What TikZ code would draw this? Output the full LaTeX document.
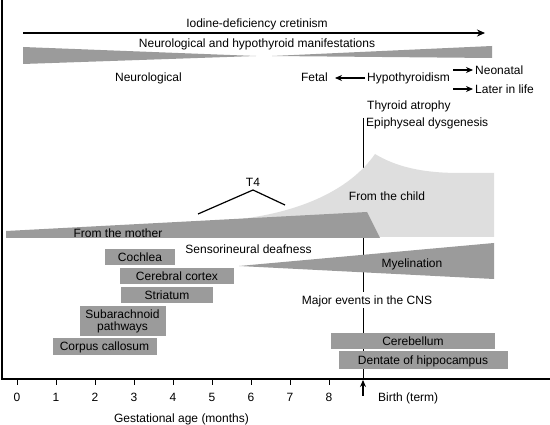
\documentclass[tikz,border=0pt]{standalone}
\usepackage{fontspec}
\setmainfont{Liberation Sans}
\usetikzlibrary{arrows.meta}
\definecolor{dk}{HTML}{9B9B9B}
\definecolor{lt}{HTML}{DEDEDE}
\begin{document}
\begin{tikzpicture}[x=1pt,y=-1pt,
  txt/.style={font=\fontsize{12}{14}\selectfont, inner sep=0pt, text height=8.6pt, text depth=0pt},
  boxnode/.style={fill=dk, inner sep=0pt, font=\fontsize{12}{14}\selectfont},
  ln/.style={line width=1.2pt},
  arr/.style={ln, -{Stealth[length=8pt,width=7pt]}},
  sarr/.style={line width=1.1pt, -{Stealth[length=7pt,width=6pt]}}]
\useasboundingbox (0,0) rectangle (550,425);
% birth line (behind shapes)
\coordinate (bt) at (363,118);
\coordinate (bb) at (363,379);
\draw[line width=1pt] (bt) -- (bb);
% frame
\coordinate (tl) at (2,0);
\coordinate (bl) at (2,379);
\coordinate (br) at (550,379);
\draw[line width=1.5pt] (tl) -- (bl) -- (br);
% ticks and labels
\foreach \i in {0,...,8} {
  \coordinate (t\i) at ({17+39*\i},379);
  \coordinate (u\i) at ({17+39*\i},385);
  \draw[line width=0.9pt] (t\i) -- (u\i);
  \node[txt] (n\i) at ({17+39*\i},397) {\i};
}
\node[txt] (gest) at (181.5,418) {Gestational age (months)};
\coordinate (b0) at (363,396);
\coordinate (b1) at (363,380);
\draw[sarr] (b0) -- (b1);
\node[txt, anchor=west] (birth) at (378,397) {Birth (term)};
% top
\node[txt] (iod) at (257,23) {Iodine-deficiency cretinism};
\coordinate (a0) at (23,33);
\coordinate (a1) at (485,33);
\draw[arr] (a0) -- (a1);
\node[txt] (nhm) at (257,43) {Neurological and hypothyroid manifestations};
\fill[dk] (23,47) -- (256,56) -- (23,64) -- cycle;
\fill[dk] (272,56) -- (492,46) -- (492,58) -- cycle;
\node[txt] (neuro) at (148.5,77) {Neurological};
\node[txt, anchor=east] (fet) at (328,77) {Fetal};
\node[txt, anchor=west] (hyp) at (367,77) {Hypothyroidism};
\draw[sarr] ([xshift=-2pt,yshift=-1pt]hyp.west) -- ([xshift=7pt,yshift=-1pt]fet.east);
\coordinate (ne0) at (453,70);
\coordinate (la0) at (453,89);
\node[txt, anchor=west] (neo) at (475,70) {Neonatal};
\node[txt, anchor=west] (later) at (475,89) {Later in life};
\draw[sarr] (ne0) -- ([xshift=-2pt]neo.west);
\draw[sarr] (la0) -- ([xshift=-2pt]later.west);
\node[txt, anchor=west] (thy) at (367,105) {Thyroid atrophy};
\node[txt, anchor=west] (epi) at (366,122) {Epiphyseal dysgenesis};
% T4 from the child
\fill[lt] (240,219) .. controls (300,212) and (350,190) .. (375,154)
  .. controls (395,166) and (420,173) .. (460,173) -- (494,173) -- (494,237) -- (240,237) -- cycle;
% from the mother
\fill[dk] (6,231) -- (367,212) -- (380,238) -- (6,238) -- cycle;
\node[txt] (mother) at (118,233) {From the mother};
\node[txt] (child) at (387,196) {From the child};
\coordinate (t4a) at (198,214);
\coordinate (t4b) at (253,190);
\coordinate (t4c) at (285,205);
\draw[ln] (t4a) -- (t4b) -- (t4c);
\node[txt] (t4) at (253,182) {T4};
% myelination
\fill[dk] (239,266) -- (494,243) -- (494,279) -- cycle;
\node[txt] (myel) at (412,263) {Myelination};
\node[txt] (deaf) at (248.5,249) {Sensorineural deafness};
% boxes
\node[boxnode, minimum width=70pt, minimum height=16pt, text height=8.6pt, text depth=0pt] (coch) at (140,257) {Cochlea};
\node[boxnode, minimum width=114pt, minimum height=16pt, text height=8.6pt, text depth=0pt] (cort) at (177,276) {Cerebral cortex};
\node[boxnode, minimum width=92pt, minimum height=16pt, text height=8.6pt, text depth=0pt] (stri) at (167,295) {Striatum};
\node[boxnode, minimum width=86pt, minimum height=30pt, align=center] (suba) at (122.5,321) {Subarachnoid\\[-2pt]pathways};
\node[boxnode, minimum width=104pt, minimum height=17pt, text height=8.6pt, text depth=0pt] (corp) at (104.5,346.5) {Corpus callosum};
\node[txt, fill=white, inner xsep=2pt, inner ysep=3.5pt] (cns) at (367,300) {Major events in the CNS};
\node[boxnode, minimum width=164pt, minimum height=16pt, text height=8.6pt, text depth=0pt] (cereb) at (413,341) {Cerebellum};
\node[boxnode, minimum width=169pt, minimum height=18pt, text height=8.6pt, text depth=0pt] (dent) at (423,360) {Dentate of hippocampus};
\end{tikzpicture}
\end{document}
